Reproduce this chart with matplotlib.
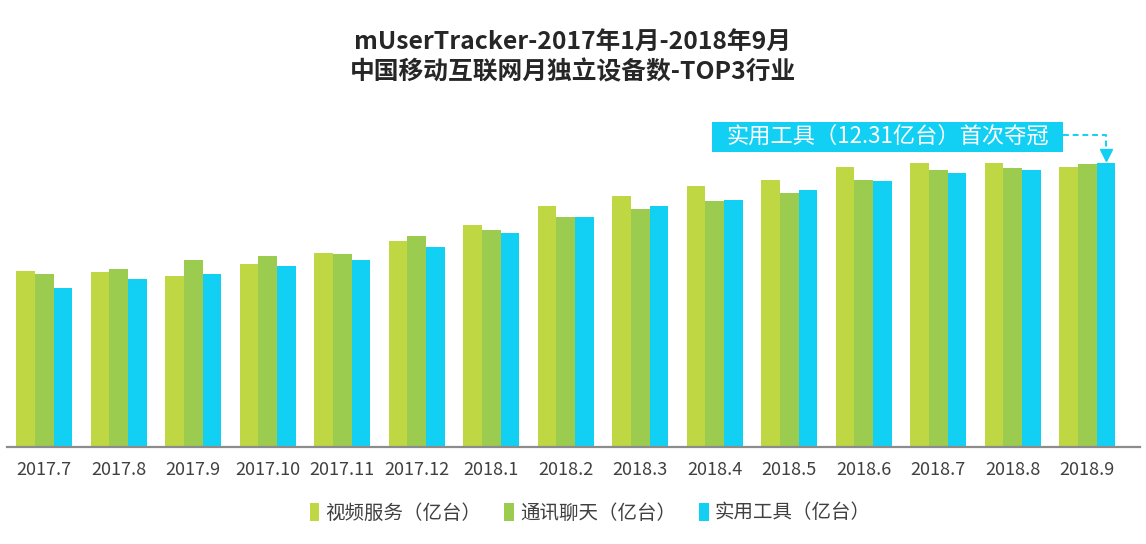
import matplotlib
matplotlib.use("Agg")
import matplotlib.pyplot as plt
from matplotlib.patches import Rectangle
import numpy as np

plt.rcParams['font.family'] = ['Noto Sans CJK SC', 'DejaVu Sans']

# Data (亿台)
months = ["2017.7", "2017.8", "2017.9", "2017.10", "2017.11", "2017.12", "2018.1",
          "2018.2", "2018.3", "2018.4", "2018.5", "2018.6", "2018.7", "2018.8", "2018.9"]
video = [7.63, 7.59, 7.40, 7.92, 8.40, 8.92, 9.62, 10.45, 10.89, 11.31, 11.56, 12.14, 12.30, 12.30, 12.14]
chat = [7.49, 7.73, 8.12, 8.28, 8.38, 9.15, 9.41, 9.98, 10.29, 10.65, 11.01, 11.56, 12.02, 12.08, 12.25]
tool = [6.91, 7.28, 7.51, 7.86, 8.12, 8.66, 9.28, 9.95, 10.42, 10.72, 11.15, 11.52, 11.89, 11.99, 12.31]
series_names = ["视频服务（亿台）", "通讯聊天（亿台）", "实用工具（亿台）"]

COLORS = ["#BED742", "#9BCB4F", "#12D0F4"]
TEXT = "#404040"
W = 0.25

fig = plt.figure(figsize=(11.46, 5.44), dpi=100)
ax = fig.add_axes([7 / 1146, 97 / 544, 1133 / 1146, 337 / 544])

x = np.arange(len(months))
for i, (vals, name) in enumerate(zip([video, chat, tool], series_names)):
    ax.bar(x + (i - 1) * W, vals, W, color=COLORS[i], label=name, linewidth=0)

ax.set_xlim(-0.5, -0.5 + 1133 / 74.5)
ax.set_ylim(0, 14.6)
ax.set_yticks([])
ax.set_xticks(x)
ax.set_xticklabels(months, fontsize=13, color=TEXT)
ax.tick_params(axis="x", length=0, pad=10)
for s in ["left", "right", "top"]:
    ax.spines[s].set_visible(False)
ax.spines["bottom"].set_color("#8C8C8C")
ax.spines["bottom"].set_linewidth(1.6)

# Annotation box with dashed elbow pointing at the last 实用工具 bar
last = len(months) - 1
tip_x = last + W
box_cx, box_cy = 11.32, 13.45
box_w, box_h = 4.71, 1.30
ax.add_patch(Rectangle((box_cx - box_w / 2, box_cy - box_h / 2), box_w, box_h,
                       fc=COLORS[2], ec="none", clip_on=False, zorder=3))
ax.text(box_cx, box_cy, "实用工具（12.31亿台）首次夺冠", ha="center", va="center",
        fontsize=16, color="white", zorder=4)
line_y = box_cy + 0.08
ax.plot([box_cx + box_w / 2, tip_x, tip_x], [line_y, line_y, tool[-1] + 0.55],
        color=COLORS[2], linestyle=(0, (3, 2)), lw=1.4, clip_on=False)
ax.plot([tip_x], [tool[-1] + 0.33], marker="v", markersize=9, color=COLORS[2],
        clip_on=False)

fig.text(0.5, 1 - 42 / 544, "mUserTracker-2017年1月-2018年9月", ha="center", va="center",
         fontsize=17.8, fontweight="bold", color="#262626")
fig.text(0.5, 1 - 72 / 544, "中国移动互联网月独立设备数-TOP3行业", ha="center", va="center",
         fontsize=17.8, fontweight="bold", color="#262626")

fig.legend(loc="center", bbox_to_anchor=(0.515, 31 / 544), ncol=3, frameon=False,
           fontsize=14, labelcolor=TEXT, handlelength=0.5, handleheight=1.0,
           handletextpad=0.3, columnspacing=1.2)

fig.savefig("out.png", dpi=100)
